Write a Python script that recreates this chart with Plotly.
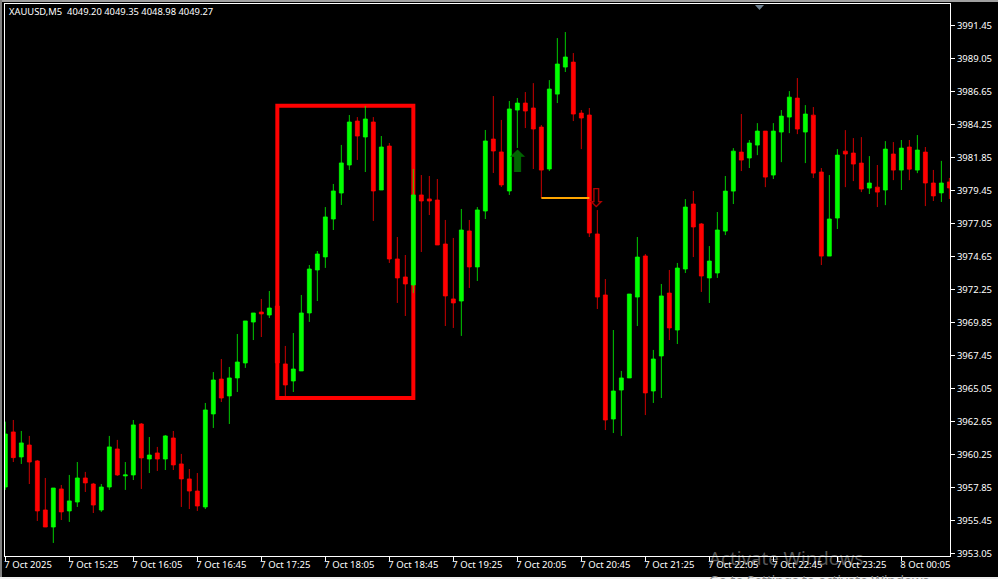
import pandas as pd
import plotly.graph_objects as go

W, H = 998, 579
ML, MR, MT, MB = 5, 48, 4, 23

# Each candle: low, high, body top and body bottom, 5 minute bars from 14:45
highs = [3962.63,3962.75,3961.95,3961.59,3959.84,3958.53,3957.80,3958.02,3958.75,3959.69,3958.97,3958.17,3958.09,3961.59,3961.30,3959.69,3962.75,3962.53,3961.51,3960.79,
3961.66,3961.95,3960.28,3959.18,3958.89,3963.99,3966.24,3967.19,3966.61,3969.01,3969.96,3970.54,3971.56,3972.14,3971.20,3968.14,3969.08,3971.85,3974.03,3975.05,
3978.25,3979.93,3982.77,3984.95,3984.80,3985.61,3984.80,3983.42,3982.91,3976.07,3974.76,3981.02,3980.58,3980.51,3980.29,3977.31,3976.00,3978.11,3977.31,3978.25,
3983.86,3986.33,3984.59,3985.97,3986.19,3986.62,3987.27,3984.22,3987.49,3990.55,3990.99,3989.46,3985.31,3985.46,3978.03,3973.01,3969.30,3966.32,3971.92,3976.07,
3974.83,3967.85,3972.65,3973.67,3974.18,3978.83,3979.42,3977.09,3975.41,3977.89,3980.51,3982.54,3985.02,3983.13,3984.36,3983.78,3984.36,3985.31,3986.69,3987.64,
3985.67,3985.53,3981.09,3980.58,3982.47,3983.85,3983.27,3983.34,3981.96,3981.31,3983.05,3982.98,3983.13,3983.13,3983.49,3982.62,3980.95,3981.61,3980.37]
body_tops = [3961.73,3961.88,3961.08,3960.93,3959.77,3956.20,3957.80,3957.73,3956.86,3958.53,3958.53,3958.09,3957.87,3960.79,3960.64,3958.75,3962.39,3962.46,3960.20,3960.35,
3961.59,3961.44,3959.55,3958.46,3957.58,3963.48,3965.66,3965.73,3965.81,3966.97,3969.96,3970.54,3970.61,3970.90,3971.05,3966.83,3966.46,3970.54,3973.74,3974.83,
3977.53,3979.42,3981.46,3984.44,3984.51,3984.66,3984.44,3982.62,3982.69,3974.47,3973.16,3979.13,3979.13,3978.84,3978.76,3975.56,3971.56,3976.58,3976.51,3978.04,
3983.06,3983.20,3982.26,3985.39,3985.82,3985.82,3985.46,3984.07,3986.84,3988.66,3989.17,3988.80,3985.09,3984.95,3976.29,3971.85,3964.86,3965.81,3971.92,3974.61,
3974.69,3967.19,3971.78,3971.99,3973.81,3978.25,3978.47,3977.02,3974.32,3976.58,3979.41,3982.32,3982.25,3982.91,3983.78,3983.78,3983.78,3984.87,3986.25,3986.18,
3985.02,3984.94,3980.80,3977.38,3982.03,3982.32,3982.18,3981.45,3980.00,3979.70,3982.47,3982.11,3982.54,3982.62,3982.40,3982.25,3980.00,3980.00,3980.08]
body_bottoms = [3957.87,3960.01,3960.06,3959.69,3956.13,3954.96,3954.96,3956.06,3956.13,3956.78,3958.17,3956.56,3956.20,3957.87,3958.75,3958.68,3958.75,3959.99,3959.91,3959.91,
3959.91,3959.48,3958.46,3957.58,3956.49,3956.42,3963.19,3964.35,3964.50,3965.81,3966.90,3969.88,3970.47,3970.39,3966.90,3965.30,3965.59,3966.32,3970.54,3973.67,
3974.62,3977.38,3979.27,3981.31,3983.42,3983.35,3979.42,3979.49,3974.47,3973.09,3972.65,3972.58,3978.69,3978.69,3975.49,3971.78,3971.27,3971.41,3973.89,3973.89,
3977.96,3982.33,3979.86,3979.42,3985.31,3985.24,3983.93,3980.94,3981.02,3986.47,3988.44,3985.02,3984.73,3976.36,3971.70,3962.75,3962.82,3964.93,3965.81,3971.70,
3964.72,3964.86,3967.41,3969.45,3969.30,3973.74,3976.80,3973.23,3973.09,3973.45,3976.50,3979.41,3981.67,3981.82,3982.76,3980.43,3980.58,3983.71,3984.80,3983.93,
3983.71,3980.72,3974.68,3974.68,3977.45,3982.11,3981.38,3979.56,3979.63,3979.34,3979.49,3980.94,3980.94,3981.01,3980.94,3980.00,3979.06,3979.28,3979.64]
lows = [3957.66,3959.69,3959.55,3958.09,3955.40,3954.96,3953.80,3955.47,3955.33,3956.42,3957.51,3955.98,3956.06,3957.66,3958.68,3957.66,3958.38,3957.73,3958.89,3959.04,
3959.11,3959.11,3956.42,3956.27,3956.13,3956.27,3962.17,3964.06,3962.46,3964.79,3966.54,3968.57,3968.79,3970.17,3966.50,3964.50,3964.79,3966.32,3969.89,3971.41,
3973.82,3976.58,3978.40,3980.95,3981.68,3980.80,3977.24,3979.49,3974.18,3971.27,3970.32,3972.00,3974.98,3977.67,3975.49,3969.59,3969.45,3968.87,3972.36,3972.87,
3977.38,3980.73,3979.71,3979.13,3982.55,3984.00,3981.02,3978.91,3980.87,3985.82,3988.08,3984.51,3982.47,3976.07,3970.83,3962.02,3961.80,3961.59,3965.81,3969.59,
3963.11,3963.99,3964.35,3968.57,3968.28,3973.45,3974.61,3972.07,3971.27,3973.09,3976.21,3978.47,3980.87,3981.09,3982.03,3979.70,3980.29,3981.52,3983.63,3983.56,
3981.45,3980.36,3974.03,3974.68,3976.65,3979.70,3980.14,3979.34,3979.20,3978.25,3978.39,3980.21,3979.49,3980.21,3980.72,3978.32,3978.69,3978.62,3978.84]
directions = list(
    "UDUDDDUDUUDDUUDUUDUD"
    "UDDDDUUDUUUUDUDDUUUU"
    "UUUUDUDUDDDUDDDDDUDU"
    "UDDUUDDDUUUDDDDDUUUU"
    "DUUDUUDDUUUUDUUDUUUD"
    "UDDUUDDDUDUDUDUDDUD")

price_ticks = [3991.45,3989.05,3986.65,3984.25,3981.85,3979.45,3977.05,3974.65,3972.25,3969.85,3967.45,3965.05,3962.65,3960.25,3957.85,3955.45,3953.05]
time_labels = ["7 Oct 2025","7 Oct 15:25","7 Oct 16:05","7 Oct 16:45","7 Oct 17:25","7 Oct 18:05","7 Oct 18:45","7 Oct 19:25","7 Oct 20:05",
               "7 Oct 20:45","7 Oct 21:25","7 Oct 22:05","7 Oct 22:45","7 Oct 23:25","8 Oct 00:05"]
header = "XAUUSD,M5  4049.20 4049.35 4048.98 4049.27"

times = pd.date_range("2025-10-07 14:45", periods=len(highs), freq="5min")
opens = [b if d == "U" else t for t, b, d in zip(body_tops, body_bottoms, directions)]
closes = [t if d == "U" else b for t, b, d in zip(body_tops, body_bottoms, directions)]

FONT = "Noto Sans"
fig = go.Figure(go.Candlestick(
    x=times, open=opens, high=highs, low=lows, close=closes,
    increasing=dict(line=dict(color="#00FF00", width=0.8), fillcolor="#00FF00"),
    decreasing=dict(line=dict(color="#FF0000", width=0.8), fillcolor="#FF0000"),
    whiskerwidth=0, showlegend=False))

def px(x): return (x - ML) / (W - ML - MR)
def py(y): return 1 - (y - MT) / (H - MT - MB)
def rect(x0, y0, x1, y1, c):
    return dict(type="rect", xref="paper", yref="paper", x0=px(x0), x1=px(x1), y0=py(y0), y1=py(y1),
                fillcolor=c, line_width=0, layer="above")

shapes = [
    dict(type="rect", x0=times[34], x1=times[51], y0=3964.35, y1=3985.63,
         line=dict(color="#FF0000", width=4), layer="below"),
    dict(type="line", x0=times[67], x1=times[73], y0=3978.90, y1=3978.90,
         line=dict(color="#FFA500", width=2), layer="above"),
    rect(0, 0, W, 2, "#a0a0a0"), rect(0, 0, 2, H, "#808080"), rect(0, 577, W, H, "#f0f0f0"),
    dict(type="path", xref="paper", yref="paper", fillcolor="#6e8090", line_width=0,
         path=f"M {px(755)} {py(5)} L {px(764)} {py(5)} L {px(759.5)} {py(10)} Z"),
]

annotations = [
    dict(xref="paper", yref="paper", x=px(7), y=py(12), text=header, showarrow=False, xanchor="left",
         yanchor="middle", font=dict(family=FONT, size=9.4, color="white")),
    dict(x=times[64], y=3981.6, text="\u2b06", showarrow=False,
         font=dict(family="DejaVu Sans", size=30, color="#006400")),
    dict(x=times[74], y=3978.9, text="\u21e9", showarrow=False, xshift=-1,
         font=dict(family="DejaVu Sans", size=26, color="#b00000")),
    dict(xref="paper", yref="paper", x=px(707), y=py(557), text="Activate Windows", showarrow=False,
         xanchor="left", yanchor="middle", font=dict(family=FONT, size=18.7, color="rgba(255,255,255,0.35)")),
    dict(xref="paper", yref="paper", x=px(707), y=py(581), text="Go to Settings to activate Windows.", showarrow=False,
         xanchor="left", yanchor="middle", font=dict(family=FONT, size=13.5, color="#8a8a8a")),
]

axis_common = dict(showgrid=False, zeroline=False, showline=True, linecolor="white", linewidth=1, mirror=True,
                   ticks="outside", ticklen=4, tickcolor="white", tickwidth=1,
                   tickfont=dict(family=FONT, size=9.5, color="white"))
fig.update_layout(
    width=W, height=H, margin=dict(l=ML, r=MR, t=MT, b=MB, pad=0),
    paper_bgcolor="black", plot_bgcolor="black", showlegend=False, dragmode=False,
    xaxis=dict(type="date", range=["2025-10-07 14:44:48", "2025-10-08 00:35:24"],
               tickmode="array", tickvals=list(times[::8]), ticktext=time_labels,
               ticklabelposition="outside right", ticklabelshift=-2, rangeslider_visible=False, tickangle=0, **axis_common),
    yaxis=dict(side="right", range=[3952.85, 3993.03], tickmode="array", tickvals=price_ticks,
               ticktext=[f"{p:.2f}" for p in price_ticks], **axis_common),
    shapes=shapes, annotations=annotations)

fig.write_html("out.html", config=dict(displayModeBar=False),
               post_script="document.body.style.margin='0';document.body.style.overflow='hidden';document.documentElement.style.background='black';")
